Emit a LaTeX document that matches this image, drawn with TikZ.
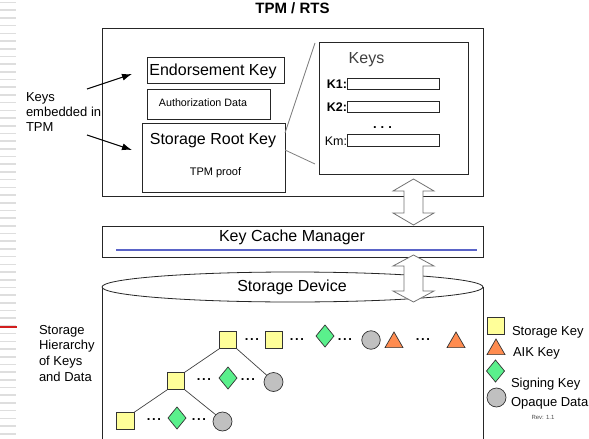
\documentclass[tikz,border=0pt]{standalone}
\usepackage{fontspec}
\setmainfont{Liberation Sans}
\usetikzlibrary{shapes.geometric,arrows.meta}

\definecolor{skey}{RGB}{255,255,153}
\definecolor{aik}{RGB}{255,140,80}
\definecolor{sign}{RGB}{90,240,140}
\definecolor{opaque}{RGB}{192,192,192}
\definecolor{kcmline}{RGB}{90,100,200}
\definecolor{stripe}{RGB}{222,222,222}
\definecolor{accent}{RGB}{210,30,30}
\newcommand{\setfs}[1]{\fontsize{#1}{#1}\selectfont}

\begin{document}
\begin{tikzpicture}[x=1pt,y=-1pt,
  every node/.style={inner sep=0pt, outer sep=0pt},
  frame/.style={draw=black!85, line width=0.8pt, fill=white},
  field/.style={draw=black!85, line width=0.7pt, fill=white, minimum width=92pt, minimum height=11pt},
  skeynode/.style={rectangle, draw=black!80, line width=0.7pt, fill=skey, minimum size=17.5pt},
  aiknode/.style={regular polygon, regular polygon sides=3, draw=black!80, line width=0.7pt, fill=aik, minimum size=20.8pt},
  signnode/.style={diamond, draw=black!80, line width=0.7pt, fill=sign, minimum width=18pt, minimum height=22pt},
  opqnode/.style={circle, draw=black!80, line width=0.7pt, fill=opaque, minimum size=18.5pt},
  dots/.style={font=\bfseries\setfs{13}, anchor=base},
  link/.style={draw=black!75, line width=0.7pt},
  zoomline/.style={draw=gray, line width=0.8pt},
  pointer/.style={draw=black, line width=1.1pt, -{Latex[length=10pt,width=7pt]}},
  dblarrow/.style={draw=gray!90!black, fill=white, line width=0.8pt, line join=miter},
  legendtext/.style={anchor=base west, font=\setfs{13}},
]
\useasboundingbox (0,0) rectangle (589,439);

% slide margin stripes
\foreach \k in {0,...,56}
  \draw[stripe, line width=1.6pt] (0,2.5+7.7*\k) -- (16,2.5+7.7*\k);
\draw[accent, line width=1.5pt] (0,327) -- (17,327);

% title
\node[anchor=base, font=\bfseries\setfs{15}] (title) at (292.5,13.5) {TPM / RTS};

% TPM block
\node[frame, minimum width=381pt, minimum height=168pt] (tpm) at (292.5,112) {};
\node[frame, minimum width=137pt, minimum height=26pt] (ek) at (215.5,70) {};
\node[anchor=base, font=\setfs{16}] (ektext) at (213,75) {Endorsement Key};
\node[frame, minimum width=123pt, minimum height=30pt] (ad) at (208.5,104) {};
\node[anchor=base, font=\setfs{10.7}] (adtext) at (203,106.5) {Authorization Data};
\node[frame, minimum width=143pt, minimum height=69pt] (srk) at (213.5,157.5) {};
\node[anchor=base, font=\setfs{16}] (srktext) at (213,144) {Storage Root Key};
\node[anchor=base, font=\setfs{11}] (proof) at (215.5,175.5) {TPM proof};

% key slots
\node[frame, minimum width=149pt, minimum height=132pt] (keys) at (393.5,108) {};
\node[anchor=base, font=\setfs{16}, text=black!75] (keystitle) at (366.5,63.3) {Keys};
\node[field] (k1f) at (393,83.5) {};
\node[anchor=base east, font=\bfseries\setfs{12.5}] (k1) at (347,88.3) {K1:};
\node[field] (k2f) at (393,106.5) {};
\node[anchor=base east, font=\bfseries\setfs{12.5}] (k2) at (347,111.7) {K2:};
\node[dots] (kdots) at (382.5,128.5) {.\hspace{4pt}.\hspace{4pt}.};
\node[field, minimum height=12pt] (kmf) at (393,140) {};
\node[anchor=base east, font=\setfs{12.5}] (km) at (347,145.7) {Km:};

% zoom lines from the SRK to the key slots
\draw[zoomline] ([yshift=-10pt]srk.north east) -- ([xshift=-4pt,yshift=-1pt]keys.north west);
\draw[zoomline] ([yshift=-27pt]srk.north east) -- ([xshift=-4pt,yshift=10pt]keys.south west);

% embedded keys pointers
\node[anchor=north west, align=left, font=\fontsize{13}{14.8}\selectfont] (embed) at (26,92.7) {Keys\\embedded in\\TPM};
\coordinate (p1s) at (87,89);
\coordinate (p1e) at (132,74);
\coordinate (p2s) at (87,135);
\coordinate (p2e) at (132,150);
\draw[pointer] (p1s) -- (p1e);
\draw[pointer] (p2s) -- (p2e);

% storage device cylinder
\draw[black!85, line width=0.8pt] (102,287) -- (102,439);
\draw[black!85, line width=0.8pt] (483,287) -- (483,439);
\draw[black!85, line width=0.8pt, fill=white] (292.5,287) ellipse [x radius=190.5, y radius=15];
\node[anchor=base, font=\setfs{16}] (sdev) at (292,291.7) {Storage Device};

% key cache manager
\node[frame, minimum width=381pt, minimum height=31pt] (kcm) at (292.5,241.5) {};
\node[anchor=base, font=\setfs{16}] (kcmtext) at (292,241.7) {Key Cache Manager};
\draw[kcmline, line width=1.3pt] (116,250) -- (477,250);

% transfer arrows
\coordinate (u1) at (413.5,179);
\coordinate (d1) at (413.5,225);
\path[dblarrow] (u1) -- ++(20.5,12) -- ++(-11,0) -- ([xshift=9.5pt,yshift=12pt]d1)
  -- ++(11,0) -- (d1) -- ++(-20.5,-12) -- ++(11,0) -- ([xshift=-9.5pt,yshift=-12pt]u1)
  -- ++(-11,0) -- cycle;
\coordinate (u2) at (413.5,255);
\coordinate (d2) at (413.5,302);
\path[dblarrow] (u2) -- ++(20.5,11) -- ++(-11,0) -- ([xshift=9.5pt,yshift=11pt]d2)
  -- ++(11,0) -- (d2) -- ++(-20.5,-11) -- ++(11,0) -- ([xshift=-9.5pt,yshift=-11pt]u2)
  -- ++(-11,0) -- cycle;

% storage hierarchy label
\node[anchor=north west, align=left, font=\fontsize{13}{15.8}\selectfont] (hier) at (39,325) {Storage\\Hierarchy\\of Keys\\and Data};

% hierarchy row 1
\node[skeynode] (r1a) at (228,340) {};
\node[dots] (d1a) at (252,340.1) {.\hspace{1.6pt}.\hspace{1.6pt}.};
\node[skeynode] (r1b) at (274,340) {};
\node[dots] (d1b) at (297,340.1) {.\hspace{1.6pt}.\hspace{1.6pt}.};
\node[signnode] (r1c) at (325,336) {};
\node[dots] (d1c) at (345,340.1) {.\hspace{1.6pt}.\hspace{1.6pt}.};
\node[opqnode] (r1d) at (371,340) {};
\node[aiknode] (r1e) at (394,342.4) {};
\node[dots] (d1d) at (423,340.1) {.\hspace{1.6pt}.\hspace{1.6pt}.};
\node[aiknode] (r1f) at (456,342.4) {};

% hierarchy row 2
\node[skeynode] (r2a) at (176,381) {};
\node[dots] (d2a) at (204,380.1) {.\hspace{1.6pt}.\hspace{1.6pt}.};
\node[signnode] (r2c) at (228,378) {};
\node[dots] (d2c) at (248,380.1) {.\hspace{1.6pt}.\hspace{1.6pt}.};
\node[opqnode, minimum size=19pt] (r2d) at (273.5,382) {};

% hierarchy row 3
\node[skeynode] (r3a) at (125.5,421) {};
\node[dots] (d3a) at (154,420.1) {.\hspace{1.6pt}.\hspace{1.6pt}.};
\node[signnode] (r3c) at (177,418) {};
\node[dots] (d3c) at (199,420.1) {.\hspace{1.6pt}.\hspace{1.6pt}.};
\node[opqnode, minimum size=19pt] (r3d) at (222.5,421.5) {};

% parent-child links
\draw[link] (r1a.south west) -- (r2a.north east);
\draw[link] (r1a.south east) -- (r2d.north west);
\draw[link] (r2a.south west) -- (r3a.north east);
\draw[link] (r2a.south east) -- (r3d.north west);

% legend
\node[skeynode] (lgs) at (496,326) {};
\node[aiknode] (lga) at (496,349.4) {};
\node[signnode] (lgg) at (495.5,371) {};
\node[opqnode, minimum size=19pt] (lgo) at (496.5,397.5) {};
\node[legendtext] (lgst) at (512,335.7) {Storage Key};
\node[legendtext] (lgat) at (513,356) {AIK Key};
\node[legendtext] (lggt) at (511,387.3) {Signing Key};
\node[legendtext] (lgot) at (511,406.7) {Opaque Data};
\node[anchor=base, font=\setfs{6}, text=black!70] (rev) at (543,419) {Rev: 1.1};
\end{tikzpicture}
\end{document}
